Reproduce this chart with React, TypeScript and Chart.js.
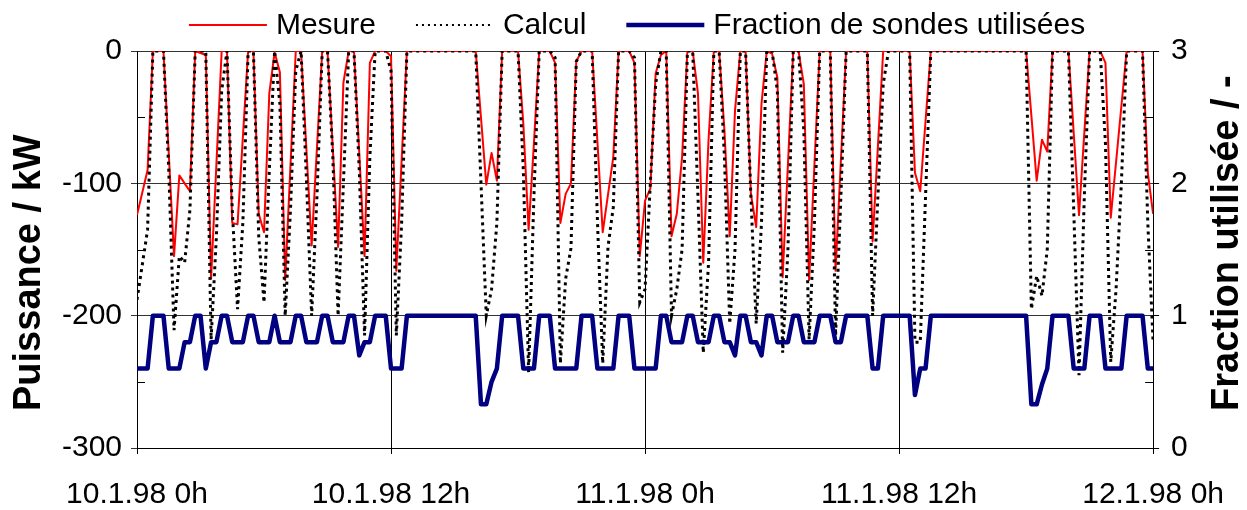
import React, { useEffect, useRef } from 'react';
import { Chart, registerables } from 'chart.js';

Chart.register(...registerables);

// ---- Data (hours since 10.1.98 0h, value) ----
const X_TICK_LABELS = ['10.1.98 0h', '10.1.98 12h', '11.1.98 0h', '11.1.98 12h', '12.1.98 0h'];
const Y_LEFT_TITLE = 'Puissance / kW';
const Y_RIGHT_TITLE = 'Fraction utilisée / -';
const MINOR_LEFT = [-250, -150, -50];
const MINOR_RIGHT = [0.5, 1.5, 2.5];

const mesure: [number, number][] = [
  [0, -124], [0.5, -90], [0.75, 0], [1.25, 0], [1.75, -155], [2, -94], [2.25, -100], [2.5, -106],
  [2.75, 0], [3.25, -3], [3.5, -172], [4, 0], [4.25, 0], [4.5, -130], [4.75, -131], [5.25, 0],
  [5.5, 0], [5.75, -123], [6, -137], [6.25, -32], [6.5, -1], [6.75, -16], [7, -173], [7.5, 0],
  [7.75, 0], [8.25, -147], [8.75, 0], [9, 0], [9.5, -148], [9.75, -24], [10, 0], [10.25, 0],
  [10.75, -155], [11, -9], [11.25, 0], [11.75, 0], [12, -4], [12.25, -166], [12.75, 0], [16, 0],
  [16.5, -101], [16.75, -77], [17, -98], [17.25, 0], [18, 0], [18.25, -55], [18.5, -135], [18.75, -70],
  [19, 0], [19.5, 0], [19.75, -9], [20, -130], [20.25, -108], [20.5, -100], [20.75, -8], [21, 0],
  [21.5, 0], [22, -137], [22.5, -80], [22.75, 0], [23.25, 0], [23.5, -9], [23.75, -155], [24, -113],
  [24.25, -104], [24.5, -17], [24.75, -3], [25, 0], [25.25, -140], [25.5, -123], [25.75, -80], [26, 0],
  [26.25, 0], [26.5, -32], [26.75, -160], [27, -67], [27.25, 0], [27.5, 0], [27.75, -60], [28, -140],
  [28.25, -45], [28.5, 0], [28.75, 0], [29, -108], [29.25, -133], [29.5, -40], [29.75, 0], [30, -2],
  [30.25, -20], [30.5, -171], [31, 0], [31.25, 0], [31.5, -25], [31.75, -173], [32.25, 0], [32.75, 0],
  [33, -166], [33.5, 0], [34.5, 0], [34.75, -144], [35.25, 0], [36.5, 0], [36.75, -92], [37, -106],
  [37.5, 0], [42, 0], [42.5, -98], [42.75, -67], [43, -76], [43.25, 0], [44, 0], [44.5, -124],
  [45, 0], [45.5, 0], [45.75, -9], [46, -126], [46.75, 0], [47.5, 0], [47.75, -92], [48, -123],
];

const calcul: [number, number][] = [
  [0, -188], [0.5, -135], [0.75, 0], [1.25, 0], [1.5, -90], [1.75, -211], [2, -155], [2.25, -160],
  [2.5, -120], [2.75, 0], [3.25, 0], [3.5, -218], [3.75, -140], [4, -30], [4.25, 0], [4.5, -120],
  [4.75, -195], [5, -130], [5.25, 0], [5.5, 0], [5.75, -140], [6, -190], [6.25, -90], [6.5, 0],
  [6.75, -40], [7, -200], [7.25, -120], [7.5, -15], [7.75, 0], [8, -95], [8.25, -200], [8.5, -110],
  [8.75, 0], [9, 0], [9.25, -80], [9.5, -200], [9.75, -100], [10, 0], [10.25, 0], [10.5, -90],
  [10.75, -215], [11, -80], [11.25, 0], [11.75, 0], [12, -15], [12.25, -215], [12.5, -130], [12.75, 0],
  [16, 0], [16.25, -100], [16.5, -200], [16.75, -180], [17, -130], [17.25, 0], [18, 0], [18.25, -90],
  [18.5, -243], [18.75, -110], [19, 0], [19.5, 0], [19.75, -5], [20, -236], [20.25, -172], [20.5, -149],
  [20.75, -8], [21, 0], [21.5, 0], [21.75, -128], [22, -236], [22.25, -148], [22.5, -118], [22.75, 0],
  [23.25, 0], [23.5, -5], [23.75, -190], [24, -180], [24.25, -100], [24.5, -25], [24.75, 0], [25, 0],
  [25.25, -200], [25.5, -180], [25.75, -150], [26, 0], [26.25, 0], [26.5, -110], [26.75, -228], [27, -160],
  [27.25, 0], [27.5, 0], [27.75, -80], [28, -206], [28.25, -150], [28.5, 0], [28.75, 0], [29, -110],
  [29.25, -206], [29.5, -130], [29.75, 0], [30, 0], [30.25, -30], [30.5, -228], [30.75, -150], [31, 0],
  [31.25, 0], [31.5, -60], [31.75, -218], [32, -130], [32.25, 0], [32.75, 0], [33, -215], [33.25, -110],
  [33.5, 0], [34.5, 0], [34.75, -200], [35, -110], [35.25, -25], [35.5, 0], [36.5, 0], [36.75, -220],
  [37, -220], [37.25, -110], [37.5, 0], [42, 0], [42.25, -195], [42.5, -170], [42.75, -185], [43, -150],
  [43.25, 0], [44, 0], [44.25, -120], [44.5, -245], [44.75, -110], [45, 0], [45.5, 0], [45.75, -70],
  [46, -235], [46.25, -180], [46.5, -100], [46.75, 0], [47.5, 0], [47.75, -130], [48, -220],
];

const fraction: [number, number][] = [
  [0, 0.6], [0.5, 0.6], [0.75, 1], [1.25, 1], [1.5, 0.6], [2, 0.6], [2.25, 0.8], [2.5, 0.8],
  [2.75, 1], [3, 1], [3.25, 0.6], [3.5, 0.8], [3.75, 0.8], [4, 1], [4.25, 1], [4.5, 0.8],
  [5, 0.8], [5.25, 1], [5.5, 1], [5.75, 0.8], [6.25, 0.8], [6.5, 1], [6.75, 0.8], [7.25, 0.8],
  [7.5, 1], [7.75, 1], [8, 0.8], [8.5, 0.8], [8.75, 1], [9, 1], [9.25, 0.8], [9.75, 0.8],
  [10, 1], [10.25, 1], [10.5, 0.7], [10.75, 0.8], [11, 0.8], [11.25, 1], [11.75, 1], [12, 0.6],
  [12.5, 0.6], [12.75, 1], [16, 1], [16.25, 0.33], [16.5, 0.33], [16.75, 0.5], [17, 0.6], [17.25, 1],
  [18, 1], [18.25, 0.6], [18.75, 0.6], [19, 1], [19.5, 1], [19.75, 0.6], [20.75, 0.6], [21, 1],
  [21.5, 1], [21.75, 0.6], [22.5, 0.6], [22.75, 1], [23.25, 1], [23.5, 0.6], [24.5, 0.6], [24.75, 1],
  [25, 1], [25.25, 0.8], [25.75, 0.8], [26, 1], [26.25, 1], [26.5, 0.8], [27, 0.8], [27.25, 1],
  [27.5, 1], [27.75, 0.8], [28, 0.8], [28.25, 0.7], [28.5, 1], [28.75, 1], [29, 0.8], [29.25, 0.8],
  [29.5, 0.7], [29.75, 1], [30, 1], [30.25, 0.8], [30.75, 0.8], [31, 1], [31.25, 1], [31.5, 0.8],
  [32, 0.8], [32.25, 1], [32.75, 1], [33, 0.8], [33.25, 0.8], [33.5, 1], [34.5, 1], [34.75, 0.6],
  [35, 0.6], [35.25, 1], [36.5, 1], [36.75, 0.4], [37, 0.6], [37.25, 0.6], [37.5, 1], [42, 1],
  [42.25, 0.33], [42.5, 0.33], [42.75, 0.48], [43, 0.6], [43.25, 1], [44, 1], [44.25, 0.6], [44.75, 0.6],
  [45, 1], [45.5, 1], [45.75, 0.6], [46.5, 0.6], [46.75, 1], [47.5, 1], [47.75, 0.6], [48, 0.6],
];

const FONT = '"Liberation Sans", Arial, Helvetica, sans-serif';

const toXY = (arr: [number, number][]) => arr.map(([x, y]) => ({ x, y }));

// Custom legend: line samples + labels centred above the plot area
const legendPlugin = {
  id: 'lineLegend',
  afterDraw(chart: any) {
    const { ctx, chartArea } = chart;
    const sample = 78;
    const textGap = 9;
    const itemGap = 40;
    const y = 25;
    ctx.save();
    ctx.font = `30px ${FONT}`;
    const datasets = chart.data.datasets;
    const widths = datasets.map((ds: any) => sample + textGap + ctx.measureText(ds.label).width);
    const total = widths.reduce((a: number, b: number) => a + b, 0) + itemGap * (datasets.length - 1);
    let x = (chartArea.left + chartArea.right) / 2 - total / 2 - 8;
    datasets.forEach((ds: any, i: number) => {
      ctx.beginPath();
      ctx.setLineDash(ds.legendDash || ds.borderDash || []);
      ctx.lineWidth = ds.legendWidth || ds.borderWidth;
      ctx.strokeStyle = ds.borderColor;
      ctx.moveTo(x, y);
      ctx.lineTo(x + sample, y);
      ctx.stroke();
      ctx.setLineDash([]);
      ctx.fillStyle = '#000';
      ctx.textBaseline = 'middle';
      ctx.textAlign = 'left';
      ctx.fillText(ds.label, x + sample + textGap, y + 1);
      x += widths[i] + itemGap;
    });
    ctx.restore();
  },
};

// Axis titles (rotated, reading bottom to top) and inner minor ticks
const axisDecorPlugin = {
  id: 'axisDecor',
  afterDraw(chart: any) {
    const { ctx, chartArea, scales } = chart;
    ctx.save();
    ctx.font = `bold 38px ${FONT}`;
    ctx.fillStyle = '#000';
    ctx.textBaseline = 'middle';
    ctx.textAlign = 'left';
    const startY = chartArea.bottom - 37;
    ctx.save();
    ctx.translate(30, startY);
    ctx.rotate(-Math.PI / 2);
    ctx.fillText(Y_LEFT_TITLE, 0, 0);
    ctx.restore();
    ctx.save();
    ctx.translate(chart.width - 19, startY);
    ctx.rotate(-Math.PI / 2);
    ctx.fillText(Y_RIGHT_TITLE, 0, 0);
    ctx.restore();

    ctx.strokeStyle = '#000';
    ctx.lineWidth = 1;
    ctx.beginPath();
    MINOR_LEFT.forEach((v) => {
      const py = Math.round(scales.y.getPixelForValue(v)) + 0.5;
      ctx.moveTo(chartArea.left, py);
      ctx.lineTo(chartArea.left + 8, py);
    });
    MINOR_RIGHT.forEach((v) => {
      const py = Math.round(scales.y1.getPixelForValue(v)) + 0.5;
      ctx.moveTo(chartArea.right, py);
      ctx.lineTo(chartArea.right - 8, py);
    });
    ctx.stroke();
    ctx.restore();
  },
};

export default function App() {
  const ref = useRef<HTMLCanvasElement>(null);

  useEffect(() => {
    if (!ref.current) return;
    const chart = new Chart(ref.current, {
      type: 'line',
      data: {
        datasets: [
          {
            label: 'Mesure',
            data: toXY(mesure),
            borderColor: '#FF0000',
            borderWidth: 2,
            borderJoinStyle: 'round',
            yAxisID: 'y',
            order: 2,
            pointRadius: 0,
            tension: 0,
          },
          {
            label: 'Calcul',
            data: toXY(calcul),
            borderColor: '#000000',
            borderWidth: 3,
            borderDash: [3, 4],
            legendDash: [2, 4],
            legendWidth: 2,
            yAxisID: 'y',
            order: 1,
            pointRadius: 0,
            tension: 0,
          },
          {
            label: 'Fraction de sondes utilisées',
            data: toXY(fraction),
            borderColor: '#000080',
            borderWidth: 4.5,
            borderJoinStyle: 'round',
            borderCapStyle: 'round',
            yAxisID: 'y1',
            order: 0,
            pointRadius: 0,
            tension: 0,
          },
        ],
      },
      options: {
        responsive: false,
        devicePixelRatio: 1,
        animation: false,
        layout: { padding: { top: 51, left: 0, right: 0, bottom: 0 } },
        plugins: {
          legend: { display: false },
          tooltip: { enabled: false },
        },
        scales: {
          x: {
            type: 'linear',
            min: 0,
            max: 48,
            ticks: {
              stepSize: 12,
              autoSkip: false,
              maxRotation: 0,
              minRotation: 0,
              padding: 23,
              color: '#000',
              font: { family: FONT, size: 30 },
              callback: (v: any) => X_TICK_LABELS[Math.round(Number(v) / 12)],
            },
            grid: { color: '#000', lineWidth: 1, tickLength: 6 },
            border: { color: '#000', width: 1 },
            afterFit: (s: any) => {
              s.height = 62;
            },
          },
          y: {
            type: 'linear',
            position: 'left',
            min: -300,
            max: 0,
            ticks: {
              stepSize: 100,
              padding: 9,
              color: '#000',
              font: { family: FONT, size: 30 },
            },
            grid: { color: '#333', lineWidth: 1, tickLength: 6 },
            border: { color: '#000', width: 1 },
            afterFit: (s: any) => {
              s.width = 137;
            },
          },
          y1: {
            type: 'linear',
            position: 'right',
            min: 0,
            max: 3,
            ticks: {
              stepSize: 1,
              padding: 12,
              color: '#000',
              font: { family: FONT, size: 30 },
            },
            grid: { drawOnChartArea: false, color: '#000', tickLength: 6 },
            border: { color: '#000', width: 1 },
            afterFit: (s: any) => {
              s.width = 89;
            },
          },
        },
      },
      plugins: [legendPlugin, axisDecorPlugin],
    } as any);
    return () => chart.destroy();
  }, []);

  return (
    <div style={{ position: 'fixed', left: 0, top: 0, width: 1247, height: 510, background: '#fff' }}>
      <canvas ref={ref} width={1247} height={510} style={{ display: 'block', width: 1247, height: 510 }} />
    </div>
  );
}
